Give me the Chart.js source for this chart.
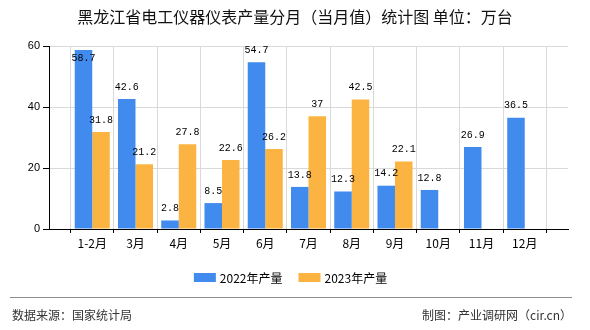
<!DOCTYPE html>
<html>
<head>
<meta charset="utf-8">
<script src="https://cdn.jsdelivr.net/npm/chart.js@4/dist/chart.umd.min.js"></script>
<style>
    html, body { margin: 0; padding: 0; background: #fff; }
    #wrap { width: 590px; height: 330px; }
</style>
</head>
<body>
<div id="wrap"><canvas id="chart" width="590" height="330"></canvas></div>
<script>
// ── Data ──────────────────────────────────────────────────────────────
const categories = ['1-2月', '3月', '4月', '5月', '6月', '7月', '8月', '9月', '10月', '11月', '12月'];
const seriesNames = ['2022年产量', '2023年产量'];
const values2022 = [58.7, 42.6, 2.8, 8.5, 54.7, 13.8, 12.3, 14.2, 12.8, 26.9, 36.5];
const values2023 = [31.8, 21.2, 27.8, 22.6, 26.2, 37, 42.5, 22.1, null, null, null];
const yTicks = [0, 20, 40, 60];

const COLORS = ['#428bee', '#fbb441'];
const CJK = '"Noto Sans CJK SC", "Liberation Sans", sans-serif';

// empty slot on each side so ticks sit on the category positions
const labels = ['', ...categories, ''];
const pad = arr => [null, ...arr, null];

// ── Plugins ───────────────────────────────────────────────────────────

const valueLabels = {
    id: 'valueLabels',
    afterDatasetsDraw(chart) {
        const { ctx, chartArea } = chart;
        ctx.save();
        ctx.font = '10px "Liberation Mono", monospace';
        ctx.fillStyle = '#000';
        ctx.textAlign = 'center';
        ctx.textBaseline = 'middle';
        chart.data.datasets.forEach((ds, i) => {
            chart.getDatasetMeta(i).data.forEach((bar, j) => {
                const v = ds.data[j];
                if (v === null || v === undefined) return;
                let y = bar.y - 12;
                if (y - 3 < chartArea.top) y = bar.y + 8;   // no room above: put it inside
                ctx.fillText(String(v), bar.x, y);
            });
        });
        ctx.restore();
    },
};

const decorations = {
    id: 'decorations',
    afterDraw(chart) {
        const { ctx } = chart;
        ctx.save();

        // title
        ctx.fillStyle = '#111';
        ctx.font = '16px ' + CJK;
        ctx.textAlign = 'center';
        ctx.textBaseline = 'middle';
        ctx.fillText('黑龙江省电工仪器仪表产量分月（当月值）统计图 单位：万台', 295, 17);

        // legend
        ctx.font = '12px ' + CJK;
        const boxW = 22, boxH = 9, gap = 4, spacing = 16;
        const widths = seriesNames.map(n => boxW + gap + ctx.measureText(n).width);
        const total = widths.reduce((a, b) => a + b, 0) + spacing * (widths.length - 1);
        let x = 290.5 - total / 2;
        ctx.textAlign = 'left';
        seriesNames.forEach((name, i) => {
            ctx.fillStyle = COLORS[i];
            ctx.fillRect(x, 273, boxW, boxH);
            ctx.fillStyle = '#000';
            ctx.fillText(name, x + boxW + gap, 278);
            x += widths[i] + spacing;
        });

        // footer
        ctx.strokeStyle = '#8c8c8c';
        ctx.lineWidth = 1;
        ctx.beginPath();
        ctx.moveTo(10, 297.5);
        ctx.lineTo(572, 297.5);
        ctx.stroke();

        ctx.fillStyle = '#333';
        ctx.font = '12px ' + CJK;
        ctx.textAlign = 'left';
        ctx.fillText('数据来源：国家统计局', 12, 315);
        ctx.textAlign = 'right';
        ctx.fillText('制图：产业调研网（cir.cn）', 572, 315);

        ctx.restore();
    },
};

// ── Chart ─────────────────────────────────────────────────────────────

new Chart(document.getElementById('chart'), {
    type: 'bar',
    data: {
        labels,
        datasets: [
            { label: seriesNames[0], data: pad(values2022), backgroundColor: COLORS[0] },
            { label: seriesNames[1], data: pad(values2023), backgroundColor: COLORS[1] },
        ],
    },
    options: {
        responsive: false,
        animation: false,
        events: [],
        categoryPercentage: 0.81,
        barPercentage: 1,
        layout: { padding: { top: 46, right: 22, left: 0, bottom: 0 } },
        plugins: {
            legend: { display: false },
            title: { display: false },
            tooltip: { enabled: false },
        },
        scales: {
            x: {
                offset: false,
                afterFit: s => { s.height = 101; },
                grid: { color: '#d9d9d9', tickColor: '#000', tickLength: 4 },
                border: { color: '#000', width: 1 },
                ticks: {
                    color: '#000',
                    padding: 3,
                    maxRotation: 0,
                    autoSkip: false,
                    font: { family: CJK, size: 12 },
                },
            },
            y: {
                min: 0,
                max: 60,
                afterFit: s => { s.width = 49; },
                afterBuildTicks: s => { s.ticks = yTicks.map(v => ({ value: v })); },
                grid: { color: '#d9d9d9', tickColor: '#000', tickLength: 6 },
                border: { color: '#000', width: 1 },
                ticks: {
                    color: '#000',
                    padding: 3,
                    font: { family: '"Liberation Sans", sans-serif', size: 11 },
                },
            },
        },
    },
    plugins: [valueLabels, decorations],
});
</script>
</body>
</html>
